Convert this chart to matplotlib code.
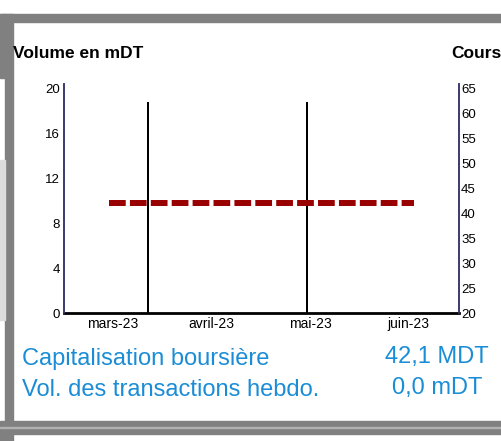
import matplotlib.pyplot as plt
from matplotlib.patches import Rectangle
from datetime import datetime, timedelta

plt.rcParams['font.family'] = ['Liberation Sans', 'DejaVu Sans']

# volume bars (mDT)
vol_dates = [datetime(2023, 3, 27), datetime(2023, 5, 15)]
vol_values = [18.8, 18.8]

# weekly closing price
price_dates = [datetime(2023, 3, 15) + timedelta(weeks=i) for i in range(14)] + [datetime(2023, 6, 17)]
price_values = [42.1] * 15

month_ticks = [datetime(2023, 3, 16), datetime(2023, 4, 15, 12),
               datetime(2023, 5, 16), datetime(2023, 6, 15, 12)]
month_labels = ["mars-23", "avril-23", "mai-23", "juin-23"]

left_ticks = [0, 4, 8, 12, 16, 20]
right_ticks = [20, 25, 30, 35, 40, 45, 50, 55, 60, 65]

capi_label = "Capitalisation boursière"
capi_value = "42,1 MDT"
vol_label = "Vol. des transactions hebdo."
vol_text = "0,0 mDT"

W, H = 501, 441
fig = plt.figure(figsize=(W / 100, H / 100), dpi=100)

def px_rect(x0, y0, x1, y1, color):
    # rectangle in pixel coords measured from the top-left corner
    fig.patches.append(Rectangle((x0 / W, 1 - y1 / H), (x1 - x0) / W, (y1 - y0) / H,
                                 transform=fig.transFigure, color=color, zorder=0))

# frame pieces of the surrounding page
px_rect(0, 14, 501, 22, "#808080")
px_rect(5, 14, 13, 441, "#808080")
px_rect(0, 14, 5, 78, "#808080")
px_rect(0, 160, 5, 320, "#dcdcdc")
px_rect(0, 421, 501, 434, "#808080")
px_rect(0, 427, 501, 428, "#b0b0b0")
px_rect(0, 434, 5, 441, "#808080")

ax = fig.add_axes([64 / W, 1 - 313 / H, (459 - 64) / W, (313 - 84) / H])
ax2 = ax.twinx()

ax.bar(vol_dates, vol_values, width=0.6, color="black", zorder=2)
ax2.plot(price_dates, price_values, color="#990000", linewidth=4.3,
         linestyle=(0, (2.8, 0.7)), solid_capstyle="butt")

ax.set_xlim(datetime(2023, 3, 1), datetime(2023, 7, 1))
ax.set_ylim(0, 20.4)
ax2.set_ylim(20, 20 + 45 * 20.4 / 20)
ax.set_yticks(left_ticks)
ax2.set_yticks(right_ticks)
ax.set_xticks(month_ticks)
ax.set_xticklabels(month_labels)

ax.tick_params(axis="y", length=0, pad=3, labelsize=9.5)
ax2.tick_params(axis="y", length=0, pad=1.5, labelsize=9.5)
ax.tick_params(axis="x", length=0, pad=3, labelsize=10)

for a in (ax, ax2):
    a.spines["top"].set_visible(False)
    a.spines["left"].set_color("#3a3a6e")
    a.spines["right"].set_color("#3a3a6e")
    a.spines["left"].set_linewidth(1.2)
    a.spines["right"].set_linewidth(1.2)
    a.spines["bottom"].set_linewidth(2)
    a.spines["bottom"].set_color("black")
ax2.spines["bottom"].set_visible(False)
ax.patch.set_visible(False)

fig.text(13 / W, 1 - 54 / H, "Volume en mDT", fontsize=12.5, fontweight="bold",
         ha="left", va="center")
fig.text(501 / W, 1 - 54 / H, "Cours", fontsize=12.5, fontweight="bold",
         ha="right", va="center")

blue = "#1a8dd6"
fig.text(22 / W, 1 - 359 / H, capi_label, fontsize=17, color=blue, ha="left", va="center")
fig.text(22 / W, 1 - 390 / H, vol_label, fontsize=17, color=blue, ha="left", va="center")
fig.text(437 / W, 1 - 357 / H, capi_value, fontsize=17, color=blue, ha="center", va="center")
fig.text(437 / W, 1 - 388 / H, vol_text, fontsize=17, color=blue, ha="center", va="center")

fig.savefig("out.png", dpi=100)
